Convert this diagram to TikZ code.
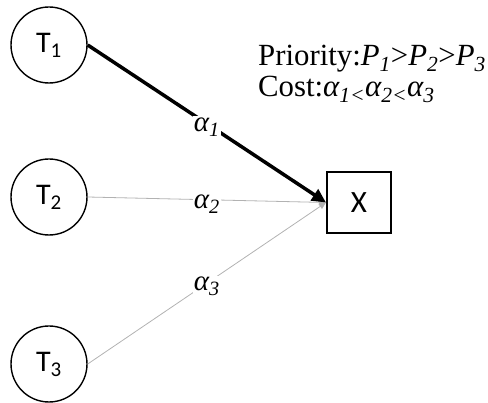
\documentclass[tikz,border=0pt]{standalone}
\usepackage{fontspec}
\setmainfont{Liberation Serif}
\newfontfamily\calib{Carlito}
\usetikzlibrary{arrows.meta}
\tikzset{
  task/.style={circle, draw, line width=1.4pt, minimum size=76pt, inner sep=0pt, font=\calib\fontsize{30}{32}\selectfont},
  target/.style={rectangle, draw, line width=2pt, minimum width=64pt, minimum height=61pt, inner sep=0pt, font=\calib\fontsize{31}{33}\selectfont},
  boldarrow/.style={line width=3.5pt, -{Triangle[length=14pt,width=13pt]}},
  thinarrow/.style={line width=0.8pt, draw=black!30, -{Triangle[length=7pt,width=6pt]}},
  wlabel/.style={fill=white, inner sep=1pt, font=\fontsize{29}{31}\selectfont\itshape},
  note/.style={anchor=base west, inner sep=0pt, font=\fontsize{30.8}{31}\selectfont}
}
\begin{document}
\begin{tikzpicture}[x=1pt,y=-1pt]
\useasboundingbox (0,0) rectangle (488,403);
\node[task] (T1) at (49,45) {T\textsubscript{1}};
\node[task] (T2) at (49,197) {T\textsubscript{2}};
\node[task] (T3) at (49,364) {T\textsubscript{3}};
\node[target] (X) at (359,202.5) {X};
\draw[thinarrow] (T2.east) -- (X.west) node[wlabel, pos=0.5, yshift=-4pt] (a2) {α\textsubscript{2}};
\draw[thinarrow] (T3.east) -- (X.west) node[wlabel, pos=0.5, yshift=-3pt] (a3) {α\textsubscript{3}};
\draw[boldarrow] (T1.east) -- (X.west) node[wlabel, pos=0.5, yshift=-3pt] (a1) {α\textsubscript{1}};
\node[note] (pri) at (258,66) {Priority:\textit{P\textsubscript{1}}>\textit{P\textsubscript{2}}>\textit{P\textsubscript{3}}};
\node[note] (cost) at (258,97) {Cost:\textit{α\textsubscript{1<}α\textsubscript{2<}α\textsubscript{3}}};
\end{tikzpicture}
\end{document}
